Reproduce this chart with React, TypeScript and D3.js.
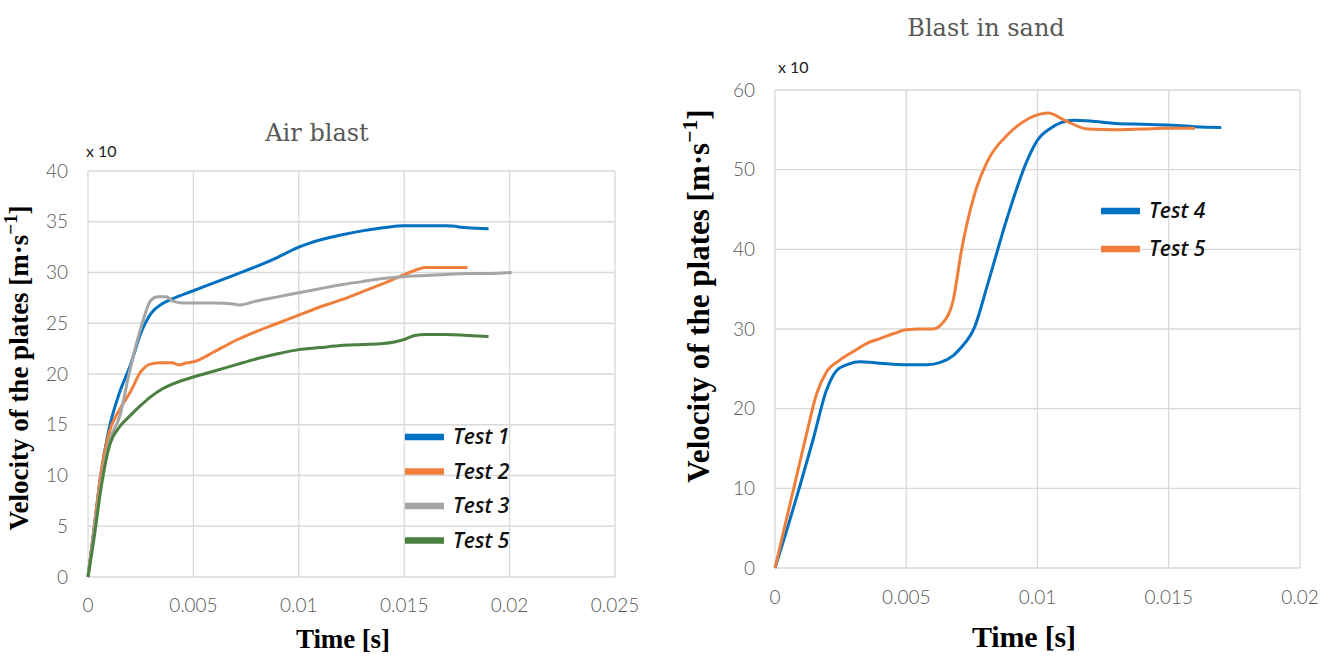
import React from "react";
import * as d3 from "d3";

// ---------- Data: Air blast ----------
const airT1 = [0, 0.0003, 0.0006, 0.001, 0.0015, 0.002, 0.0025, 0.003, 0.0035, 0.004, 0.005, 0.006, 0.007, 0.008, 0.009, 0.01, 0.011, 0.012, 0.013, 0.014, 0.015, 0.016, 0.017, 0.018, 0.019];
const airV1 = [0, 5, 10, 14.6, 18.2, 20.8, 24.0, 26.0, 26.9, 27.4, 28.2, 29.0, 29.8, 30.6, 31.5, 32.5, 33.2, 33.7, 34.1, 34.4, 34.6, 34.6, 34.6, 34.4, 34.3];

const airT2 = [0, 0.0003, 0.0006, 0.001, 0.0015, 0.002, 0.0025, 0.003, 0.0035, 0.004, 0.0043, 0.0047, 0.005, 0.006, 0.007, 0.008, 0.009, 0.01, 0.011, 0.012, 0.013, 0.014, 0.015, 0.0155, 0.016, 0.017, 0.018];
const airV2 = [0, 5, 10, 14.2, 16.5, 18.2, 20.2, 21.0, 21.1, 21.1, 20.9, 21.1, 21.2, 22.2, 23.3, 24.2, 25.0, 25.8, 26.6, 27.3, 28.1, 28.9, 29.8, 30.2, 30.5, 30.5, 30.5];

const airT3 = [0, 0.0003, 0.0006, 0.001, 0.0015, 0.002, 0.0025, 0.003, 0.0033, 0.0037, 0.004, 0.0045, 0.005, 0.006, 0.0069, 0.0072, 0.008, 0.009, 0.01, 0.011, 0.012, 0.013, 0.014, 0.015, 0.016, 0.017, 0.018, 0.019, 0.0201];
const airV3 = [0, 4.5, 9, 13.3, 15.8, 20.5, 24.5, 27.3, 27.6, 27.6, 27.2, 27.0, 27.0, 27.0, 26.9, 26.8, 27.2, 27.6, 28.0, 28.4, 28.8, 29.1, 29.4, 29.6, 29.7, 29.8, 29.9, 29.9, 30.0];

const airT5 = [0, 0.0003, 0.0006, 0.001, 0.0015, 0.002, 0.0025, 0.003, 0.0035, 0.004, 0.005, 0.006, 0.007, 0.008, 0.009, 0.01, 0.011, 0.012, 0.013, 0.014, 0.015, 0.0155, 0.016, 0.017, 0.018, 0.019];
const airV5 = [0, 4, 8.5, 12.8, 14.8, 15.9, 16.9, 17.8, 18.5, 19.0, 19.7, 20.3, 20.9, 21.5, 22.0, 22.4, 22.6, 22.8, 22.9, 23.0, 23.4, 23.8, 23.9, 23.9, 23.8, 23.7];

// ---------- Data: Blast in sand ----------
const sandT4 = [0, 0.0005, 0.00094, 0.00145, 0.00196, 0.00235, 0.0028, 0.00324, 0.004, 0.005, 0.0058, 0.0063, 0.0068, 0.0071, 0.0076, 0.0081, 0.00885, 0.0096, 0.01, 0.0105, 0.0109, 0.0114, 0.012, 0.013, 0.014, 0.015, 0.016, 0.017];
const sandV4 = [0, 5.3, 10.2, 16.1, 22.3, 24.8, 25.6, 25.9, 25.7, 25.5, 25.5, 25.8, 26.7, 27.7, 30.2, 35.6, 44.0, 51.1, 53.7, 55.2, 55.9, 56.2, 56.1, 55.8, 55.7, 55.6, 55.4, 55.3];

const sandT5 = [0, 0.0007, 0.0012, 0.00158, 0.00196, 0.00247, 0.003, 0.0035, 0.004, 0.0045, 0.005, 0.0055, 0.006, 0.0064, 0.0068, 0.0071, 0.0076, 0.0081, 0.0089, 0.0096, 0.0104, 0.0111, 0.0119, 0.013, 0.014, 0.015, 0.016];
const sandV5 = [0, 9.8, 16.8, 21.8, 24.6, 26.1, 27.2, 28.2, 28.8, 29.4, 29.9, 30.0, 30.0, 30.8, 33.8, 39.8, 46.9, 51.1, 54.5, 56.3, 57.1, 56.1, 55.1, 55.0, 55.1, 55.2, 55.2];

// ---------- Ticks ----------
const airXTicks = [0, 0.005, 0.01, 0.015, 0.02, 0.025];
const airYTicks = [0, 5, 10, 15, 20, 25, 30, 35, 40];
const sandXTicks = [0, 0.005, 0.01, 0.015, 0.02];
const sandYTicks = [0, 10, 20, 30, 40, 50, 60];

const airLegend = ["Test 1", "Test 2", "Test 3", "Test 5"];
const sandLegend = ["Test 4", "Test 5"];

const BLUE = "#0070C0";
const ORANGE = "#F07F3C";
const GREY = "#A5A5A5";
const GREEN = "#4A8040";

const GRID = "#D9D9D9";
const TICK_COLOR = "#595959";
const TICK_FONT = "Lato, 'Open Sans', sans-serif";
const SERIF = "'Liberation Serif', 'DejaVu Serif', serif";
const TITLE_SERIF = "'DejaVu Serif', 'Liberation Serif', serif";
const LEGEND_FONT = "'Open Sans', 'Liberation Sans', sans-serif";

type Series = { t: number[]; v: number[]; color: string };

function fmt(x: number) {
  return x === 0 ? "0" : String(x);
}

function Panel(props: {
  left: number; right: number; top: number; bottom: number;
  xMax: number; yMax: number; xTicks: number[]; yTicks: number[];
  series: Series[]; title: string; titleX: number; titleY: number;
  legend: string[]; legendColors: string[]; legendX: number; legendY: number; legendGap: number;
  yTitleX: number; yTitleY: number; yTitleSize: number; yTitleLen: number;
  xTitleX: number; xTitleY: number; xTitleSize: number; xTitleLen: number;
  xLabelY: number; x10X: number; x10Y: number;
}) {
  const p = props;
  const x = d3.scaleLinear().domain([0, p.xMax]).range([p.left, p.right]);
  const y = d3.scaleLinear().domain([0, p.yMax]).range([p.bottom, p.top]);
  const line = d3.line<[number, number]>().x(d => x(d[0])).y(d => y(d[1])).curve(d3.curveMonotoneX);
  return (
    <g>
      {p.xTicks.map(t => (
        <line key={"gx" + t} x1={x(t)} x2={x(t)} y1={p.top} y2={p.bottom} stroke={GRID} strokeWidth={1.3} />
      ))}
      {p.yTicks.map(t => (
        <line key={"gy" + t} x1={p.left} x2={p.right} y1={y(t)} y2={y(t)} stroke={GRID} strokeWidth={1.3} />
      ))}
      {p.yTicks.map(t => (
        <text key={"ly" + t} x={p.left - 20} y={y(t)} dy="0.35em" textAnchor="end" fontFamily={TICK_FONT} fontWeight={300} fontSize={19} fill={TICK_COLOR}>{fmt(t)}</text>
      ))}
      {p.xTicks.map(t => (
        <text key={"lx" + t} x={x(t)} y={p.xLabelY} dy="0.35em" textAnchor="middle" fontFamily={TICK_FONT} fontWeight={300} fontSize={19} fill={TICK_COLOR}>{fmt(t)}</text>
      ))}
      <text x={p.x10X} y={p.x10Y} fontFamily={TICK_FONT} fontSize={16} fill="#222">x 10</text>
      {p.series.map((s, i) => (
        <path key={"s" + i} d={line(s.t.map((t, j) => [t, s.v[j]] as [number, number])) || ""} fill="none" stroke={s.color} strokeWidth={3} strokeLinejoin="round" />
      ))}
      {p.legend.map((name, i) => (
        <g key={"lg" + i}>
          <line x1={p.legendX} x2={p.legendX + 39} y1={p.legendY + i * p.legendGap} y2={p.legendY + i * p.legendGap} stroke={p.legendColors[i]} strokeWidth={6.5} />
          <text x={p.legendX + 48} y={p.legendY + i * p.legendGap} dy="0.35em" fontFamily={LEGEND_FONT} fontStyle="italic" fontWeight={600} fontSize={21} fill="#111">{name}</text>
        </g>
      ))}
      <text x={p.titleX} y={p.titleY} textAnchor="middle" fontFamily={TITLE_SERIF} fontSize={24} fill="#595959">{p.title}</text>
      <text x={p.xTitleX} y={p.xTitleY} textAnchor="middle" fontFamily={SERIF} fontWeight="bold" fontSize={p.xTitleSize} textLength={p.xTitleLen} lengthAdjust="spacing" fill="#000">Time [s]</text>
      <text transform={`translate(${p.yTitleX},${p.yTitleY}) rotate(-90)`} textAnchor="middle" fontFamily={SERIF} fontWeight="bold" fontSize={p.yTitleSize} fill="#000">
        Velocity of the plates [m·s<tspan dy={-p.yTitleSize * 0.4} fontSize={p.yTitleSize * 0.7}>−1</tspan><tspan dy={p.yTitleSize * 0.4}>]</tspan>
      </text>
    </g>
  );
}

export default function App() {
  return (
    <svg width={1335} height={658} style={{ position: "absolute", left: 0, top: 0, background: "#fff" }}>
      <rect width={1335} height={658} fill="#fff" />
      <Panel
        left={88} right={615} top={171} bottom={577}
        xMax={0.025} yMax={40} xTicks={airXTicks} yTicks={airYTicks}
        series={[
          { t: airT1, v: airV1, color: BLUE },
          { t: airT2, v: airV2, color: ORANGE },
          { t: airT3, v: airV3, color: GREY },
          { t: airT5, v: airV5, color: GREEN },
        ]}
        title="Air blast" titleX={317} titleY={141}
        legend={airLegend} legendColors={[BLUE, ORANGE, GREY, GREEN]}
        legendX={405} legendY={437} legendGap={34.5}
        yTitleX={28} yTitleY={368} yTitleSize={27} yTitleLen={329}
        xTitleX={343} xTitleY={648} xTitleSize={27} xTitleLen={94}
        xLabelY={605} x10X={86} x10Y={157}
      />
      <Panel
        left={775} right={1300} top={90} bottom={568}
        xMax={0.02} yMax={60} xTicks={sandXTicks} yTicks={sandYTicks}
        series={[
          { t: sandT4, v: sandV4, color: BLUE },
          { t: sandT5, v: sandV5, color: ORANGE },
        ]}
        title="Blast in sand" titleX={986} titleY={36}
        legend={sandLegend} legendColors={[BLUE, ORANGE]}
        legendX={1101} legendY={211} legendGap={38}
        yTitleX={709} yTitleY={296} yTitleSize={31} yTitleLen={372}
        xTitleX={1024} xTitleY={647} xTitleSize={30} xTitleLen={104}
        xLabelY={597} x10X={778} x10Y={73}
      />
    </svg>
  );
}
